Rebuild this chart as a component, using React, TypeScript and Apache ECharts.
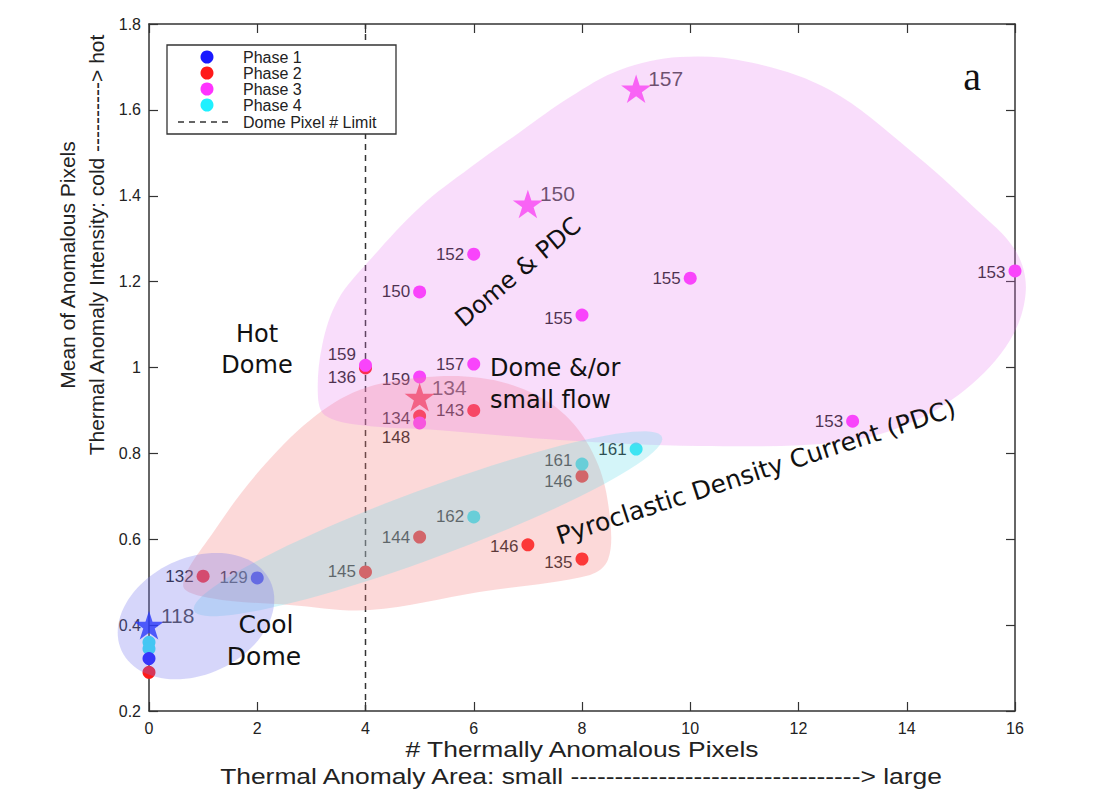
import React, { useEffect, useRef } from "react";
import * as echarts from "echarts";

// ---------- data ----------
const phase1X = [0, 2];
const phase1Y = [0.322, 0.51];
const phase1Labels = ["", "129"];
const phase1StarX = [0];
const phase1StarY = [0.4];
const phase1StarLabels = ["118"];

const phase2X = [0, 1, 4, 5, 7, 8, 8, 6, 5, 4];
const phase2Y = [0.29, 0.514, 0.524, 0.605, 0.587, 0.554, 0.747, 0.9, 0.887, 0.999];
const phase2Labels = ["", "132", "145", "144", "146", "135", "146", "143", "134", "136"];
const phase2StarX = [5];
const phase2StarY = [0.931];
const phase2StarLabels = ["134"];

const phase3X = [6, 5, 8, 10, 16, 13, 4, 6, 5, 5];
const phase3Y = [1.264, 1.176, 1.122, 1.208, 1.225, 0.875, 1.005, 1.008, 0.978, 0.871];
const phase3Labels = ["152", "150", "155", "155", "153", "153", "159", "157", "159", "148"];
const phase3StarX = [9, 7];
const phase3StarY = [1.649, 1.381];
const phase3StarLabels = ["157", "150"];

const phase4X = [0, 0, 6, 8, 9];
const phase4Y = [0.36, 0.345, 0.652, 0.775, 0.81];
const phase4Labels = ["", "", "162", "161", "161"];

const domePixelLimit = 4;

const xTicks = { min: 0, max: 16, step: 2 };
const yTicks = { min: 0.2, max: 1.8, step: 0.2 };

// ---------- styling (label vertical shifts, px) ----------
const phase1LabelDy = [0, 0];
const phase2LabelDy = [0, 0, 0, 0, 2, 3, 5, 0, 2, 10];
const phase3LabelDy = [0, 0, 3, 0, 2, 0, -11, 0, 3, 15];
const phase4LabelDy = [0, 0, 0, -4, 0];

// region outlines (data coordinates)
const pinkRegion = [
  [0.63, 0.493], [1.22, 0.622], [2.05, 0.761], [2.98, 0.878], [3.9, 0.948],
  [5.0, 0.976], [6.1, 0.976], [7.04, 0.943], [7.78, 0.878], [8.3, 0.773],
  [8.52, 0.645], [8.48, 0.552], [8.15, 0.517], [6.1, 0.477], [4.08, 0.435],
  [2.6, 0.447], [1.13, 0.463],
];
const magentaRegion = [
  [3.12, 0.936], [3.2, 1.052], [3.49, 1.157], [4.05, 1.246], [5.01, 1.374],
  [5.93, 1.465], [6.85, 1.548], [7.78, 1.63], [8.7, 1.693], [9.81, 1.723],
  [11.1, 1.711], [12.58, 1.646], [14.06, 1.506], [15.26, 1.371], [16.0, 1.274],
  [16.2, 1.18], [15.91, 1.064], [15.08, 0.948], [13.97, 0.866], [12.77, 0.826],
  [10.18, 0.817], [7.59, 0.831], [5.38, 0.854], [3.9, 0.866], [3.25, 0.889],
];
// ellipse: center, end of major semi-axis, minor/major ratio
const blueEllipse = { c: [0.868, 0.421], e: [2.241, 0.502], r: 0.71 };
const cyanEllipse = { c: [5.155, 0.636], e: [9.478, 0.838], r: 0.137 };

const SANS = '"Liberation Sans", Arial, Helvetica, sans-serif';
const ANNO = '"DejaVu Sans", Verdana, sans-serif';

const COLORS = {
  p1: "#1a1aff",
  p2: "#ff1a1a",
  p3: "#ff33ff",
  p4: "#2ee8f5",
};

const STAR =
  "path://M50,0 L61.23,34.55 L97.55,34.55 L68.17,55.9 L79.39,90.45 L50,69.1 L20.61,90.45 L31.83,55.9 L2.45,34.55 L38.77,34.55 Z";

function circleSeries(name: string, xs: number[], ys: number[], labels: string[], dys: number[], color: string, z: number) {
  return {
    name,
    type: "scatter",
    symbol: "circle",
    symbolSize: 13,
    z,
    itemStyle: { color, opacity: 1 },
    label: {
      show: true,
      position: "left",
      distance: 3,
      fontSize: 17,
      fontFamily: SANS,
      color: "#1a1a1a",
    },
    data: xs.map((x, i) => ({
      value: [x, ys[i]],
      label: labels[i]
        ? { show: true, formatter: labels[i], offset: [0, dys[i] || 0] }
        : { show: false },
    })),
  };
}

function starSeries(name: string, xs: number[], ys: number[], labels: string[], color: string) {
  return {
    name,
    type: "scatter",
    symbol: STAR,
    symbolSize: 30,
    symbolKeepAspect: true,
    z: 4,
    itemStyle: { color },
    label: {
      show: true,
      position: "right",
      distance: -3,
      offset: [0, -10],
      fontSize: 21,
      fontFamily: SANS,
      color: "#111",
    },
    data: xs.map((x, i) => ({ value: [x, ys[i]], label: { formatter: labels[i] } })),
  };
}

const regionFills = ["rgba(245,130,130,0.30)", "rgba(232,120,240,0.25)"];
const ellipseFills = ["rgba(100,220,235,0.28)", "rgba(120,120,240,0.30)"];

export default function App() {
  const ref = useRef<HTMLDivElement>(null);
  useEffect(() => {
    if (!ref.current) return;
    const chart = echarts.init(ref.current, undefined, { renderer: "svg" });
    const regions = [pinkRegion, magentaRegion];
    const ellipses = [cyanEllipse, blueEllipse];

    const axisCommon = {
      type: "value",
      splitLine: { show: false },
      axisLine: { show: true, onZero: false, lineStyle: { color: "#333", width: 1.5 } },
      axisTick: { show: true, inside: true, length: 9, lineStyle: { color: "#333", width: 1.2 } },
    };

    const option: any = {
      animation: false,
      backgroundColor: "#ffffff",
      grid: { left: 149, right: 100, top: 24, bottom: 90, containLabel: false },
      xAxis: [
        {
          ...axisCommon,
          position: "bottom",
          min: xTicks.min,
          max: xTicks.max,
          interval: xTicks.step,
          axisLabel: { fontSize: 16, color: "#222", margin: 9, fontFamily: SANS },
        },
        {
          ...axisCommon,
          position: "top",
          min: xTicks.min,
          max: xTicks.max,
          interval: xTicks.step,
          axisLabel: { show: false },
        },
      ],
      yAxis: [
        {
          ...axisCommon,
          position: "left",
          min: yTicks.min,
          max: yTicks.max,
          interval: yTicks.step,
          axisLabel: {
            fontSize: 16,
            color: "#222",
            margin: 8,
            fontFamily: SANS,
            formatter: (v: number) => String(Math.round(v * 10) / 10),
          },
        },
        {
          ...axisCommon,
          position: "right",
          min: yTicks.min,
          max: yTicks.max,
          interval: yTicks.step,
          axisLabel: { show: false },
        },
      ],
      series: [
        circleSeries("Phase 2", phase2X, phase2Y, phase2Labels, phase2LabelDy, COLORS.p2, 2),
        circleSeries("Phase 4", phase4X, phase4Y, phase4Labels, phase4LabelDy, COLORS.p4, 2),
        circleSeries("Phase 1", phase1X, phase1Y, phase1Labels, phase1LabelDy, COLORS.p1, 2),
        circleSeries("Phase 3", phase3X, phase3Y, phase3Labels, phase3LabelDy, COLORS.p3, 3),
        starSeries("Phase 2 star", phase2StarX, phase2StarY, phase2StarLabels, "#f5222d"),
        starSeries("Phase 3 star", phase3StarX, phase3StarY, phase3StarLabels, "#ff33f5"),
        starSeries("Phase 1 star", phase1StarX, phase1StarY, phase1StarLabels, "#0a1fff"),
        {
          name: "Dome Pixel # Limit",
          type: "line",
          symbol: "none",
          z: 2,
          lineStyle: { color: "#333", width: 1.5, type: [6, 5] },
          data: [
            [domePixelLimit, yTicks.min],
            [domePixelLimit, yTicks.max],
          ],
        },
        {
          type: "custom",
          name: "regions",
          silent: true,
          z: 6,
          clip: false,
          data: regions.map((r, i) => [r[0][0], r[0][1], i]),
          encode: { x: 0, y: 1 },
          renderItem: (params: any, api: any) => {
            const idx = api.value(2);
            const pts = regions[idx].map((p) => api.coord(p));
            return {
              type: "polygon",
              shape: { points: pts, smooth: 0.35 },
              style: { fill: regionFills[idx] },
            };
          },
        },
        {
          type: "custom",
          name: "ellipses",
          silent: true,
          z: 7,
          clip: false,
          data: ellipses.map((e, i) => [e.c[0], e.c[1], i]),
          encode: { x: 0, y: 1 },
          renderItem: (params: any, api: any) => {
            const idx = api.value(2);
            const el = ellipses[idx];
            const c = api.coord(el.c);
            const e = api.coord(el.e);
            const vx = e[0] - c[0];
            const vy = e[1] - c[1];
            const px = -vy * el.r;
            const py = vx * el.r;
            const pts: number[][] = [];
            for (let k = 0; k < 96; k++) {
              const t = (k / 96) * Math.PI * 2;
              pts.push([
                c[0] + Math.cos(t) * vx + Math.sin(t) * px,
                c[1] + Math.cos(t) * vy + Math.sin(t) * py,
              ]);
            }
            return {
              type: "polygon",
              shape: { points: pts },
              style: { fill: ellipseFills[idx] },
            };
          },
        },
      ],
      graphic: [
        // axis titles
        {
          type: "text",
          x: 582,
          y: 749,
          z: 20,
          scaleX: 1.2,
          style: { text: "# Thermally Anomalous Pixels", font: `22px ${SANS}`, fill: "#222", textAlign: "center", textVerticalAlign: "middle" },
        },
        {
          type: "text",
          x: 581,
          y: 776,
          z: 20,
          scaleX: 1.2,
          style: {
            text: "Thermal Anomaly Area: small ---------------------------------> large",
            font: `22px ${SANS}`,
            fill: "#222",
            textAlign: "center",
            textVerticalAlign: "middle",
          },
        },
        {
          type: "text",
          x: 67,
          y: 265,
          z: 20,
          rotation: Math.PI / 2,
          style: { text: "Mean of Anomalous Pixels", font: `21px ${SANS}`, fill: "#222", textAlign: "center", textVerticalAlign: "middle" },
        },
        {
          type: "text",
          x: 96,
          y: 245,
          z: 20,
          rotation: Math.PI / 2,
          style: {
            text: "Thermal Anomaly Intensity: cold ----------> hot",
            font: `21px ${SANS}`,
            fill: "#222",
            textAlign: "center",
            textVerticalAlign: "middle",
          },
        },
        // annotations
        { type: "text", x: 257, y: 334, z: 20, style: { text: "Hot", font: `24px ${ANNO}`, fill: "#111", textAlign: "center", textVerticalAlign: "middle" } },
        { type: "text", x: 257, y: 365, z: 20, style: { text: "Dome", font: `24px ${ANNO}`, fill: "#111", textAlign: "center", textVerticalAlign: "middle" } },
        { type: "text", x: 266, y: 624, z: 20, style: { text: "Cool", font: `25px ${ANNO}`, fill: "#111", textAlign: "center", textVerticalAlign: "middle" } },
        { type: "text", x: 264, y: 656, z: 20, style: { text: "Dome", font: `25px ${ANNO}`, fill: "#111", textAlign: "center", textVerticalAlign: "middle" } },
        { type: "text", x: 518, y: 272, z: 20, rotation: (40 * Math.PI) / 180, style: { text: "Dome & PDC", font: `24px ${ANNO}`, fill: "#111", textAlign: "center", textVerticalAlign: "middle" } },
        { type: "text", x: 490, y: 368, z: 20, style: { text: "Dome &/or", font: `24px ${ANNO}`, fill: "#111", textAlign: "left", textVerticalAlign: "middle" } },
        { type: "text", x: 490, y: 400, z: 20, style: { text: "small flow", font: `24px ${ANNO}`, fill: "#111", textAlign: "left", textVerticalAlign: "middle" } },
        {
          type: "text",
          x: 756,
          y: 472,
          z: 20,
          rotation: (18 * Math.PI) / 180,
          style: { text: "Pyroclastic Density Current (PDC)", font: `25px ${ANNO}`, fill: "#111", textAlign: "center", textVerticalAlign: "middle" },
        },
        { type: "text", x: 972, y: 76, z: 20, style: { text: "a", font: `40px "Liberation Serif", "Times New Roman", serif`, fill: "#111", textAlign: "center", textVerticalAlign: "middle" } },
        // legend
        {
          type: "group",
          x: 167,
          y: 45,
          z: 30,
          children: [
            { type: "rect", shape: { x: 0, y: 0, width: 229, height: 89 }, style: { fill: "#fff", stroke: "#333", lineWidth: 1.3 }, z: 30 },
            { type: "circle", shape: { cx: 40, cy: 12, r: 6.5 }, style: { fill: COLORS.p1 }, z: 31 },
            { type: "circle", shape: { cx: 40, cy: 28, r: 6.5 }, style: { fill: COLORS.p2 }, z: 31 },
            { type: "circle", shape: { cx: 40, cy: 44, r: 6.5 }, style: { fill: COLORS.p3 }, z: 31 },
            { type: "circle", shape: { cx: 40, cy: 60, r: 6.5 }, style: { fill: "#1ff0ff" }, z: 31 },
            { type: "line", shape: { x1: 11, y1: 77, x2: 65, y2: 77 }, style: { stroke: "#333", lineWidth: 1.5, lineDash: [6, 5] }, z: 31 },
            { type: "text", x: 76, y: 12, z: 31, style: { text: "Phase 1", font: `16px ${SANS}`, fill: "#222", textVerticalAlign: "middle" } },
            { type: "text", x: 76, y: 28, z: 31, style: { text: "Phase 2", font: `16px ${SANS}`, fill: "#222", textVerticalAlign: "middle" } },
            { type: "text", x: 76, y: 44, z: 31, style: { text: "Phase 3", font: `16px ${SANS}`, fill: "#222", textVerticalAlign: "middle" } },
            { type: "text", x: 76, y: 60, z: 31, style: { text: "Phase 4", font: `16px ${SANS}`, fill: "#222", textVerticalAlign: "middle" } },
            { type: "text", x: 76, y: 77, z: 31, style: { text: "Dome Pixel # Limit", font: `16px ${SANS}`, fill: "#222", textVerticalAlign: "middle" } },
          ],
        },
      ],
    };
    chart.setOption(option);
    return () => chart.dispose();
  }, []);
  return (
    <div
      ref={ref}
      style={{ position: "fixed", left: 0, top: 0, width: 1115, height: 801, background: "#fff" }}
    />
  );
}
